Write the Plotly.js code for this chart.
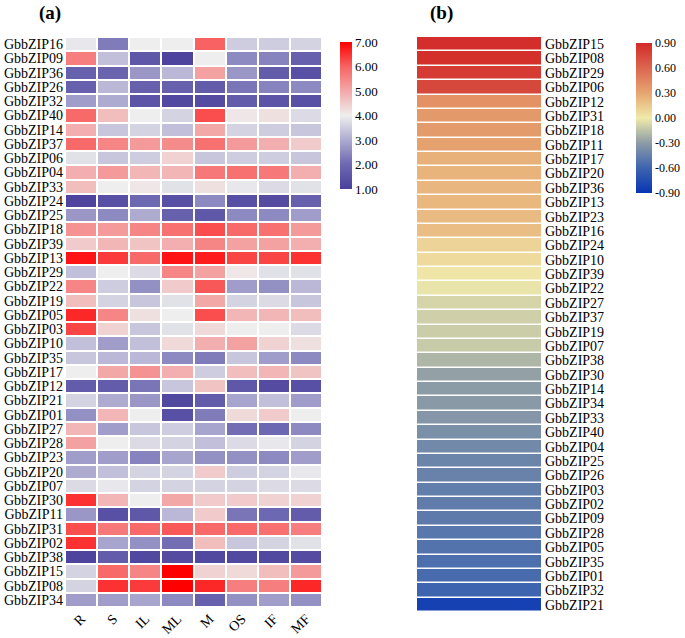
<!DOCTYPE html>
<html>
<head>
<meta charset="utf-8">
<script src="https://cdn.plot.ly/plotly-3.0.1.min.js"></script>
<style>html,body{margin:0;padding:0;background:#fff;}#chart{width:685px;height:638px;}</style>
</head>
<body>
<div id="chart"></div>
<script>
// Panel (a): expression heatmap
const tissues = ["R", "S", "IL", "ML", "M", "OS", "IF", "MF"];
const genesA = ["GbbZIP16","GbbZIP09","GbbZIP36","GbbZIP26","GbbZIP32","GbbZIP40","GbbZIP14","GbbZIP37","GbbZIP06","GbbZIP04",
  "GbbZIP33","GbbZIP24","GbbZIP25","GbbZIP18","GbbZIP39","GbbZIP13","GbbZIP29","GbbZIP22","GbbZIP19","GbbZIP05",
  "GbbZIP03","GbbZIP10","GbbZIP35","GbbZIP17","GbbZIP12","GbbZIP21","GbbZIP01","GbbZIP27","GbbZIP28","GbbZIP23",
  "GbbZIP20","GbbZIP07","GbbZIP30","GbbZIP11","GbbZIP31","GbbZIP02","GbbZIP38","GbbZIP15","GbbZIP08","GbbZIP34"];
const expr = [
  [3.9, 2.3, 4.0, 4.0, 6.0, 3.5, 3.5, 3.6],
  [5.6, 3.3, 1.6, 1.1, 4.0, 2.5, 2.4, 1.8],
  [1.8, 1.9, 2.7, 3.2, 5.1, 2.7, 1.7, 1.4],
  [1.8, 3.2, 1.8, 1.8, 1.7, 2.2, 2.4, 2.5],
  [2.8, 3.0, 1.5, 1.2, 1.3, 1.7, 1.5, 1.4],
  [5.9, 4.7, 4.0, 3.6, 6.2, 4.1, 4.2, 3.7],
  [4.9, 3.4, 3.6, 3.3, 5.0, 3.6, 3.5, 3.4],
  [5.9, 5.5, 5.2, 5.4, 5.8, 5.2, 4.9, 4.5],
  [3.8, 3.4, 3.5, 4.4, 3.4, 3.5, 3.5, 3.4],
  [4.9, 5.2, 4.8, 4.8, 5.7, 5.8, 5.7, 4.9],
  [4.7, 4.0, 4.1, 3.8, 4.2, 3.9, 3.7, 3.8],
  [1.1, 1.4, 2.0, 1.4, 2.5, 1.4, 1.3, 1.8],
  [2.7, 2.5, 3.0, 1.8, 1.6, 2.5, 2.5, 2.8],
  [5.3, 5.2, 5.5, 5.8, 6.2, 5.9, 5.8, 5.2],
  [4.5, 4.8, 4.6, 4.9, 5.5, 5.1, 5.1, 4.9],
  [6.8, 6.4, 5.9, 6.8, 6.7, 6.3, 6.3, 6.5],
  [3.3, 4.0, 3.7, 5.5, 5.1, 4.1, 3.8, 3.8],
  [5.5, 3.5, 2.6, 4.5, 6.1, 2.8, 2.6, 3.2],
  [4.7, 3.6, 3.4, 3.8, 5.0, 3.6, 3.7, 3.4],
  [6.6, 5.5, 4.2, 4.0, 6.2, 4.8, 4.8, 4.7],
  [6.3, 4.4, 3.4, 3.8, 4.3, 4.0, 4.0, 3.7],
  [3.3, 2.8, 3.3, 4.3, 4.9, 5.1, 4.4, 4.2],
  [3.4, 3.2, 3.2, 2.5, 2.3, 3.4, 2.8, 2.5],
  [4.0, 5.0, 5.3, 4.9, 3.5, 4.7, 4.8, 4.6],
  [1.7, 1.7, 2.2, 3.4, 4.6, 1.6, 1.3, 1.4],
  [3.6, 3.0, 2.7, 1.2, 1.7, 2.9, 3.3, 2.8],
  [2.6, 4.8, 4.0, 1.4, 2.3, 4.3, 4.5, 4.0],
  [4.8, 2.8, 3.4, 3.5, 2.9, 2.1, 2.0, 2.5],
  [5.1, 4.0, 3.7, 3.6, 3.3, 3.7, 3.9, 3.6],
  [2.8, 2.8, 2.4, 2.9, 2.6, 2.6, 2.5, 2.8],
  [3.0, 3.3, 3.6, 3.6, 4.5, 3.5, 3.6, 3.9],
  [3.7, 3.9, 3.6, 3.6, 3.6, 3.6, 3.7, 3.7],
  [6.5, 4.8, 4.0, 5.0, 4.5, 4.5, 4.4, 4.4],
  [2.7, 1.4, 1.6, 3.2, 4.5, 2.2, 2.0, 1.7],
  [6.2, 5.7, 5.9, 6.1, 5.9, 5.9, 5.8, 5.6],
  [6.5, 2.9, 2.6, 2.1, 4.7, 3.4, 3.6, 3.8],
  [1.1, 1.7, 1.2, 1.3, 1.2, 1.2, 1.2, 1.3],
  [3.6, 5.9, 5.5, 7.0, 4.4, 4.3, 4.7, 5.2],
  [3.6, 6.5, 6.4, 7.0, 6.6, 5.6, 5.6, 6.6],
  [2.8, 2.8, 2.9, 2.5, 1.8, 2.6, 2.8, 2.6]
];
const ticksA = [1, 2, 3, 4, 5, 6, 7];
const tickTextA = ["1.00", "2.00", "3.00", "4.00", "5.00", "6.00", "7.00"];

// Panel (b): correlation column
const genesB = ["GbbZIP15","GbbZIP08","GbbZIP29","GbbZIP06","GbbZIP12","GbbZIP31","GbbZIP18","GbbZIP11","GbbZIP17","GbbZIP20",
  "GbbZIP36","GbbZIP13","GbbZIP23","GbbZIP16","GbbZIP24","GbbZIP10","GbbZIP39","GbbZIP22","GbbZIP27","GbbZIP37",
  "GbbZIP19","GbbZIP07","GbbZIP38","GbbZIP30","GbbZIP14","GbbZIP34","GbbZIP33","GbbZIP40","GbbZIP04","GbbZIP25",
  "GbbZIP26","GbbZIP03","GbbZIP02","GbbZIP09","GbbZIP28","GbbZIP05","GbbZIP35","GbbZIP01","GbbZIP32","GbbZIP21"];
const corr = [0.88, 0.87, 0.82, 0.75, 0.40, 0.36, 0.35, 0.32, 0.25, 0.24,
  0.23, 0.22, 0.21, 0.20, 0.10, 0.07, 0.02, -0.02, -0.08, -0.10,
  -0.11, -0.12, -0.20, -0.28, -0.30, -0.31, -0.33, -0.37, -0.40, -0.43,
  -0.44, -0.46, -0.47, -0.48, -0.50, -0.52, -0.54, -0.56, -0.60, -0.82];
const ticksB = [0.9, 0.6, 0.3, 0, -0.3, -0.6, -0.9];
const tickTextB = ["0.90", "0.60", "0.30", "0.00", "-0.30", "-0.60", "-0.90"];

const serif = "Liberation Serif";

const traceA = {
  type: "heatmap", x: tissues, y: genesA, z: expr,
  xaxis: "x", yaxis: "y",
  zmin: 1, zmax: 7, xgap: 2, ygap: 2,
  colorscale: [[0, "rgb(74,64,156)"], [0.17, "rgb(110,105,178)"], [0.5, "rgb(238,238,238)"], [0.83, "rgb(248,100,100)"], [1, "rgb(255,0,0)"]],
  colorbar: {
    x: 340/685, xanchor: "left", y: 1 - 42/638, yanchor: "top",
    len: 147/638, lenmode: "fraction", thickness: 12, thicknessmode: "pixels",
    outlinewidth: 0, ticks: "", tickmode: "array", tickvals: ticksA, ticktext: tickTextA,
    tickfont: {family: serif, size: 13, color: "#000"}, xpad: 0, ypad: 0
  }
};

const traceB = {
  type: "heatmap", x: ["r"], y: genesB, z: corr.map(v => [v]),
  xaxis: "x2", yaxis: "y2",
  zmin: -0.9, zmax: 0.9, ygap: 1.5,
  colorscale: [[0, "rgb(8,52,180)"], [1/6, "rgb(62,100,175)"], [1/3, "rgb(140,156,166)"], [0.5, "rgb(240,234,170)"], [2/3, "rgb(230,166,112)"], [5/6, "rgb(220,102,80)"], [1, "rgb(210,42,40)"]],
  colorbar: {
    x: 636/685, xanchor: "left", y: 1 - 43/638, yanchor: "top",
    len: 150/638, lenmode: "fraction", thickness: 16, thicknessmode: "pixels",
    outlinewidth: 0, ticks: "", tickmode: "array", tickvals: ticksB, ticktext: tickTextB,
    tickfont: {family: serif, size: 12, color: "#000"}, xpad: 0, ypad: 0
  }
};

const layout = {
  width: 685, height: 638,
  margin: {l: 0, r: 0, t: 0, b: 0},
  paper_bgcolor: "#fff", plot_bgcolor: "#fff",
  font: {family: serif, color: "#000"},
  showlegend: false,
  xaxis: {
    domain: [65/685, 322/685], anchor: "y", type: "category",
    tickmode: "array", tickvals: tissues, ticktext: tissues,
    tickangle: -45, ticks: "", showgrid: false, zeroline: false, showline: false,
    ticklabelstandoff: 0,
    tickfont: {family: serif, size: 14}, automargin: false, fixedrange: true
  },
  yaxis: {
    domain: [1 - 607/638, 1 - 37/638], anchor: "x", type: "category",
    tickmode: "array", tickvals: genesA, ticktext: genesA,
    autorange: "reversed", ticks: "", showgrid: false, zeroline: false, showline: false,
    ticklabelstandoff: 1,
    tickfont: {family: serif, size: 14}, automargin: false, fixedrange: true
  },
  xaxis2: {
    domain: [417/685, 541/685], anchor: "y2", visible: false, type: "category", fixedrange: true
  },
  yaxis2: {
    domain: [1 - 612/638, 1 - 37/638], anchor: "x2", type: "category", side: "right",
    tickmode: "array", tickvals: genesB, ticktext: genesB,
    autorange: "reversed", ticks: "", showgrid: false, zeroline: false, showline: false,
    ticklabelstandoff: 3,
    tickfont: {family: serif, size: 14}, automargin: false, fixedrange: true
  },
  annotations: [
    {text: "<b>(a)</b>", xref: "paper", yref: "paper", x: 50/685, y: 1 - 13/638, xanchor: "center", yanchor: "middle",
     showarrow: false, font: {family: serif, size: 19, color: "#000"}},
    {text: "<b>(b)</b>", xref: "paper", yref: "paper", x: 441/685, y: 1 - 13/638, xanchor: "center", yanchor: "middle",
     showarrow: false, font: {family: serif, size: 19, color: "#000"}}
  ]
};

Plotly.newPlot("chart", [traceA, traceB], layout, {displayModeBar: false, staticPlot: true});
</script>
</body>
</html>
